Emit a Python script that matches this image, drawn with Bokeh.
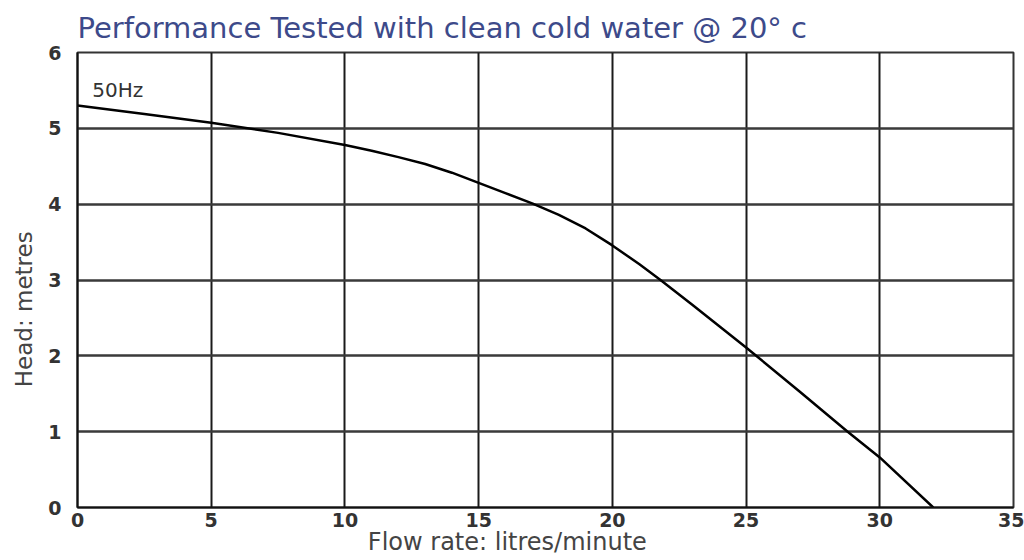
from bokeh.plotting import figure
from bokeh.models import Range1d, Label, FixedTicker
from bokeh.embed import file_html
from bokeh.resources import INLINE

# Pump curve (50Hz): flow rate in litres/minute vs head in metres
flow = [0, 2.5, 5, 7.5, 10, 11, 12, 13, 14, 15, 16, 17, 18, 19, 20, 21, 21.8, 23, 25, 27, 28.8, 30, 32]
head = [5.3, 5.19, 5.075, 4.94, 4.78, 4.705, 4.62, 4.53, 4.415, 4.28, 4.145, 4.01, 3.86, 3.68,
        3.456, 3.21, 3.0, 2.67, 2.11, 1.53, 1.0, 0.66, 0]

x_ticks = [0, 5, 10, 15, 20, 25, 30, 35]
y_ticks = [0, 1, 2, 3, 4, 5, 6]

title_text = "Performance Tested with clean cold water @ 20\u00b0 c"
x_label = "Flow rate: litres/minute"
y_label = "Head: metres"
curve_label = "50Hz"

p = figure(width=1024, height=560, x_range=Range1d(0, 35), y_range=Range1d(0, 6),
           output_backend="svg", toolbar_location=None,
           min_border_left=77, min_border_right=11, min_border_top=52, min_border_bottom=53)

p.line(flow, head, line_color="black", line_width=2.5)

for ax, ticks in ((p.xaxis, x_ticks), (p.yaxis, y_ticks)):
    ax.ticker = FixedTicker(ticks=ticks)
    ax.major_label_text_font = "DejaVu Sans"
    ax.major_label_text_font_style = "bold"
    ax.major_label_text_font_size = "19px"
    ax.major_label_text_color = "#333333"
    ax.axis_line_color = "#111111"
    ax.axis_line_width = 2
    ax.major_tick_line_color = "#111111"
    ax.major_tick_out = 0
    ax.major_tick_in = 0
    ax.minor_tick_line_color = None
    ax.axis_label_text_font = "DejaVu Sans"
    ax.axis_label_text_font_style = "normal"
    ax.axis_label_text_color = "#444444"

p.xaxis.major_label_standoff = 5
p.xaxis.axis_label = x_label + "\u00a0" * 10
p.xaxis.axis_label_text_font_size = "24px"
p.xaxis.axis_label_standoff = -2
p.yaxis.major_label_standoff = 16
p.yaxis.axis_label = y_label + "\u00a0" * 8
p.yaxis.axis_label_text_font_size = "23px"
p.yaxis.axis_label_standoff = 8

p.title.text = title_text
p.title.text_font = "DejaVu Sans"
p.title.text_font_style = "normal"
p.title.text_font_size = "29px"
p.title.text_color = "#3d4a8a"
p.title.align = "left"
p.title.standoff = 15

p.xgrid.ticker = FixedTicker(ticks=x_ticks)
p.ygrid.ticker = FixedTicker(ticks=y_ticks)
p.xgrid.grid_line_color = "#1a1a1a"
p.xgrid.grid_line_width = 2
p.ygrid.grid_line_color = "#3a3a3a"
p.ygrid.grid_line_width = 2.5
p.outline_line_color = "#333333"
p.outline_line_width = 2

p.add_layout(Label(x=0.55, y=5.51, text=curve_label, text_font="DejaVu Sans",
                   text_font_size="20px", text_color="#333333", text_baseline="alphabetic"))

open("out.html", "w").write(file_html(p, INLINE))
